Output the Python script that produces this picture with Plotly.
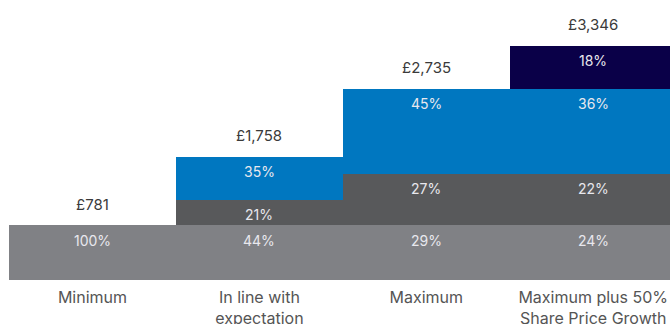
import plotly.graph_objects as go

categories = ["Minimum", "In line with<br>expectation", "Maximum", "Maximum plus 50%<br>Share Price Growth"]
fixed_pay = [781, 781, 781, 781]
annual_bonus = [0, 369, 738, 738]
ltip = [0, 608, 1216, 1216]
share_growth = [0, 0, 0, 611]
totals = [781, 1758, 2735, 3346]
total_labels = ["£781", "£1,758", "£2,735", "£3,346"]
fixed_pct = ["100%", "44%", "29%", "24%"]
bonus_pct = ["", "21%", "27%", "22%"]
ltip_pct = ["", "35%", "45%", "36%"]
growth_pct = ["", "", "", "18%"]

colors = ["#808185", "#58595b", "#0077c0", "#0a0048"]
series = [fixed_pay, annual_bonus, ltip, share_growth]
pcts = [fixed_pct, bonus_pct, ltip_pct, growth_pct]
names = ["Fixed pay", "Annual bonus", "LTIP", "Share price growth"]

x = list(range(len(categories)))
fig = go.Figure()
for vals, col, nm in zip(series, colors, names):
    fig.add_trace(go.Bar(x=x, y=vals, marker=dict(color=col, line=dict(width=0)),
                         name=nm, hoverinfo="skip"))

font_family = "Inter, sans-serif"
annotations = []
cum = [0] * len(x)
for vals, labels in zip(series, pcts):
    for i in x:
        cum[i] += vals[i]
        if vals[i] > 0 and labels[i]:
            annotations.append(dict(x=i, y=cum[i], xref="x", yref="y", text=labels[i],
                                    showarrow=False, yshift=-15,
                                    font=dict(size=14, color="#e8e8ee", family=font_family)))
for i in x:
    annotations.append(dict(x=i, y=totals[i], xref="x", yref="y", text=total_labels[i],
                            showarrow=False, yshift=21,
                            font=dict(size=15, color="#3a3a3a", family=font_family)))

fig.update_layout(
    barmode="stack", bargap=0, showlegend=False,
    width=670, height=324,
    margin=dict(l=9, r=0, t=28, b=44),
    paper_bgcolor="white", plot_bgcolor="white",
    annotations=annotations,
    xaxis=dict(tickmode="array", tickvals=x, ticktext=categories, range=[-0.5, 3.46],
               showgrid=False, zeroline=False, showline=False, automargin=False,
               ticks="outside", ticklen=3, tickcolor="rgba(0,0,0,0)",
               tickfont=dict(size=16, color="#555555", family=font_family)),
    yaxis=dict(range=[0, 3600], visible=False, automargin=False),
)
fig.write_html("out.html")
